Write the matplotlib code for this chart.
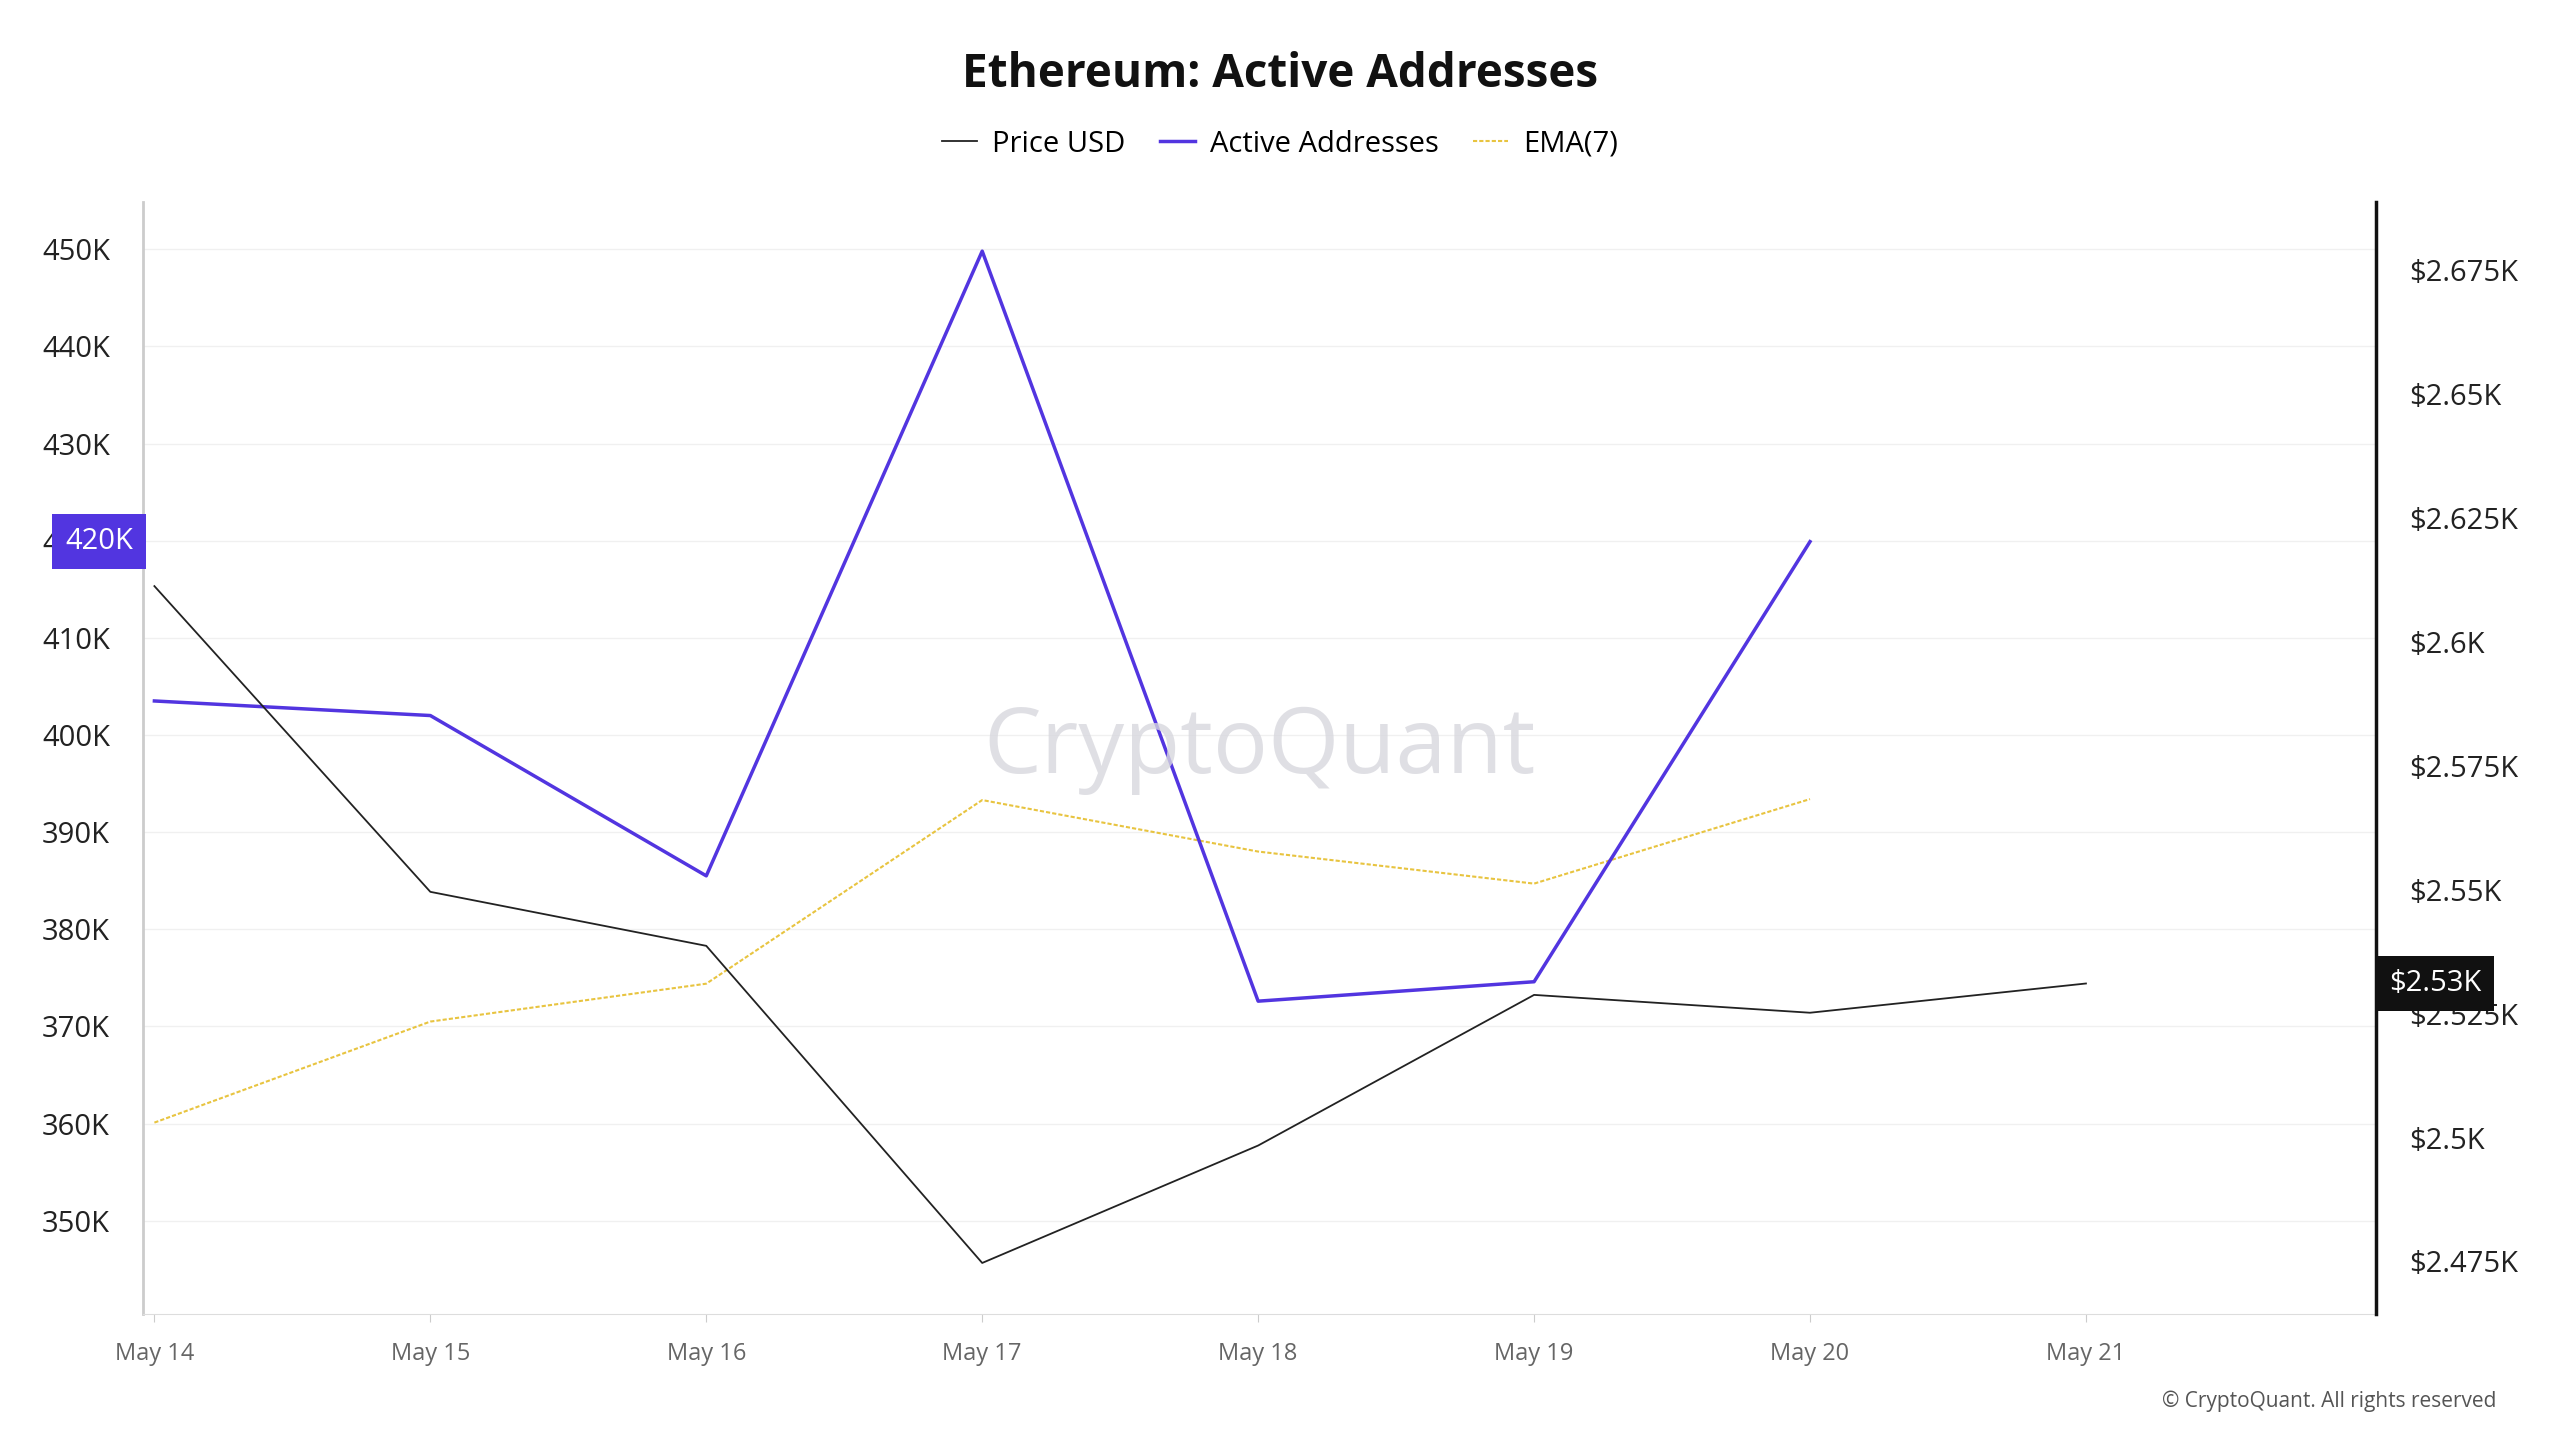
import matplotlib
matplotlib.use("Agg")
import matplotlib.pyplot as plt
from matplotlib.lines import Line2D

dates = ["May 14", "May 15", "May 16", "May 17", "May 18", "May 19", "May 20", "May 21"]
active = [403.5, 402.0, 385.5, 449.8, 372.6, 374.6, 419.9]  # thousands
ema7 = [360.1, 370.5, 374.4, 393.3, 388.0, 384.7, 393.4]     # thousands
price = [2.6113, 2.5496, 2.5387, 2.4747, 2.4984, 2.5288, 2.5252, 2.5311]  # $K
left_ticks = [350, 360, 370, 380, 390, 400, 410, 420, 430, 440, 450]
right_ticks = [2.475, 2.5, 2.525, 2.55, 2.575, 2.6, 2.625, 2.65, 2.675]

plt.rcParams["font.family"] = "Open Sans"
fig = plt.figure(figsize=(25.6, 14.4), dpi=100)
ax = fig.add_axes([0.056, 0.0875, 0.872, 0.7725])
ax2 = ax.twinx()

xa = list(range(len(active)))
xp = list(range(len(price)))
ax.plot(xa, ema7, color="#e8c440", lw=1.5, ls=(0, (2, 1)), zorder=2)
ax.plot(xa, active, color="#5235e0", lw=2.5, zorder=3)
ax2.plot(xp, price, color="#222222", lw=1.3)

ax.set_xlim(-0.04, 8.05)
ax.set_ylim(340.4, 454.9)
ax2.set_ylim(2.4644, 2.6889)
ax.set_xticks(xp)
ax.set_xticklabels(dates)
ax.set_yticks(left_ticks)
ax.set_yticklabels([f"{v}K" for v in left_ticks])
ax2.set_yticks(right_ticks)
ax2.set_yticklabels([f"${v:g}K" for v in right_ticks])
ax.grid(axis="y", color="#f0f0f0", lw=1)
ax.tick_params(axis="y", length=0, labelsize=21, pad=24, colors="#222222")
ax.tick_params(axis="x", length=6, color="#cccccc", labelsize=17, colors="#666666", pad=14)
ax2.tick_params(axis="y", length=0, labelsize=21, pad=24, colors="#222222")
ax.spines["top"].set_visible(False); ax2.spines["top"].set_visible(False)
ax.spines["left"].set_color("#cccccc"); ax.spines["left"].set_linewidth(2)
ax.spines["bottom"].set_color("#dddddd")
ax2.spines["left"].set_visible(False)
ax2.spines["bottom"].set_visible(False)
ax2.spines["right"].set_color("#111111"); ax2.spines["right"].set_linewidth(2.5)
ax.spines["right"].set_visible(False)

# value flags
ax.text(-0.0045, active[-1], f"{active[-1]:.0f}K", transform=ax.get_yaxis_transform(),
        ha="right", va="center", fontsize=21, color="white",
        bbox=dict(boxstyle="square,pad=0.45", fc="#5235e0", ec="none"))
ax2.text(1.006, price[-1], f"${price[-1]:.2f}K", transform=ax2.get_yaxis_transform(),
         ha="left", va="center", fontsize=21, color="white",
         bbox=dict(boxstyle="square,pad=0.45", fc="#111111", ec="none"))

fig.text(0.5, 0.948, "Ethereum: Active Addresses", ha="center", va="center",
         fontsize=33, fontweight="bold", color="#111111")
handles = [Line2D([], [], color="#222222", lw=1.3),
           Line2D([], [], color="#5235e0", lw=2.5),
           Line2D([], [], color="#e8c440", lw=1.5, ls=(0, (2, 1)))]
fig.legend(handles, ["Price USD", "Active Addresses", "EMA(7)"], loc="center",
           bbox_to_anchor=(0.5, 0.9), ncol=3, frameon=False, fontsize=21,
           handlelength=1.2, columnspacing=1.2, handletextpad=0.5)
fig.text(0.492, 0.48, "CryptoQuant", ha="center", va="center", fontsize=66,
         color="#d8d8de", alpha=0.8, fontweight="medium", zorder=0)
fig.text(0.975, 0.027, "© CryptoQuant. All rights reserved", ha="right", va="center",
         fontsize=15, color="#555555")
fig.savefig("out.png", dpi=100, facecolor="white")
